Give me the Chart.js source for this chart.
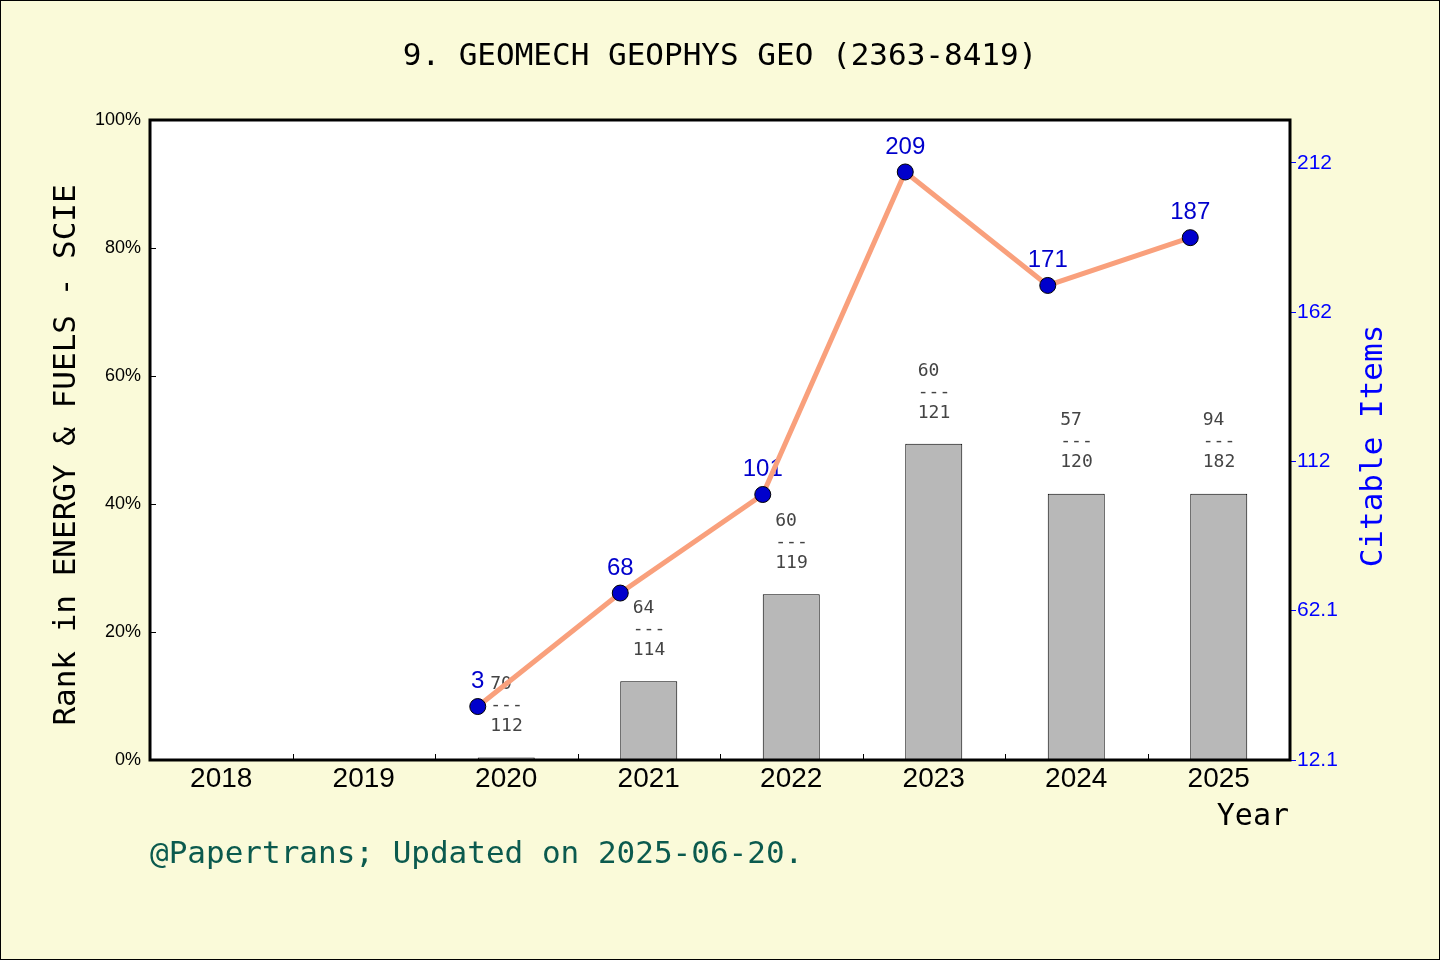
<!DOCTYPE html>
<html><head><meta charset="utf-8">
<script src="https://cdn.jsdelivr.net/npm/chart.js@4.4.0/dist/chart.umd.min.js"></script>
<style>html,body{margin:0;padding:0;background:#fafad9;} canvas{display:block;}</style>
</head><body>
<canvas id="c" width="1440" height="960"></canvas>
<script>
const years = ['2018','2019','2020','2021','2022','2023','2024','2025'];
const rankPercent = [null, null, 0.4, 12.3, 25.9, 49.4, 41.6, 41.6];
const rankPos = [null, null, 70, 64, 60, 60, 57, 94];
const rankTotal = [null, null, 112, 114, 119, 121, 120, 182];
const citableItems = [null, null, 3, 68, 101, 209, 171, 187];
// the reference draws the "3" marker at about 30 on the right scale
const citablePlotted = [null, null, 30, 68, 101, 209, 171, 187];
const leftTicks = [0, 20, 40, 60, 80, 100];
const rightTicks = [12.1, 62.1, 112.1, 162.1, 212.1];
const rightTickLabels = ['12.1', '62.1', '112', '162', '212'];
const rightMin = 12.1, rightMax = 226.4;
const titleText = '9. GEOMECH GEOPHYS GEO (2363-8419)';
const yTitle = 'Rank in ENERGY & FUELS - SCIE';
const y1Title = 'Citable Items';
const xTitle = 'Year';
const footerText = '@Papertrans; Updated on 2025-06-20.';
// the line markers sit at the left edge of each bar (category index - 0.2)
const lineShift = -0.2;

const lineData = [];
citablePlotted.forEach((v, i) => { if (v != null) lineData.push({x: i + lineShift, y: v, label: citableItems[i]}); });

const MONO = '"DejaVu Sans Mono", "Liberation Mono", monospace';
const SANS = '"Liberation Sans", Arial, sans-serif';

const deco = {
  id: 'deco',
  beforeDraw(chart) {
    const {ctx, chartArea: a, width, height} = chart;
    ctx.save();
    ctx.fillStyle = '#fafad9';
    ctx.fillRect(0, 0, width, height);
    ctx.fillStyle = '#ffffff';
    ctx.fillRect(a.left, a.top, a.right - a.left, a.bottom - a.top);
    ctx.restore();
  },
  beforeDatasetsDraw(chart) {
    const ctx = chart.ctx;
    const lineMeta = chart.getDatasetMeta(0);
    const barMeta = chart.getDatasetMeta(1);
    ctx.save();
    ctx.font = '18px ' + MONO;
    ctx.fillStyle = '#444444';
    ctx.textAlign = 'left';
    ctx.textBaseline = 'middle';
    barMeta.data.forEach((bar, i) => {
      if (rankPercent[i] == null) return;
      const x = bar.x - 16, y = bar.y;
      ctx.fillText(String(rankPos[i]), x, y - 73);
      ctx.fillText('---', x, y - 52);
      ctx.fillText(String(rankTotal[i]), x, y - 31);
    });
    ctx.font = '24px ' + SANS;
    ctx.fillStyle = '#0000cc';
    ctx.textAlign = 'center';
    lineMeta.data.forEach((pt, i) => {
      ctx.fillText(String(lineData[i].label), pt.x, pt.y - 25);
    });
    ctx.restore();
  },
  afterDatasetsDraw(chart) {
    const {ctx, chartArea: a, scales} = chart;
    ctx.save();
    ctx.strokeStyle = '#000';
    ctx.lineWidth = 1;
    ctx.beginPath();
    leftTicks.forEach(v => {
      const y = Math.round(scales.y.getPixelForValue(v)) + 0.5;
      ctx.moveTo(a.left, y); ctx.lineTo(a.left + 6, y);
    });
    for (let i = 1; i < years.length; i++) {
      const x = Math.round((scales.x.getPixelForValue(i - 1) + scales.x.getPixelForValue(i)) / 2) + 0.5;
      ctx.moveTo(x, a.bottom); ctx.lineTo(x, a.bottom - 6);
    }
    ctx.stroke();
    ctx.lineWidth = 3;
    ctx.strokeRect(a.left, a.top, a.right - a.left, a.bottom - a.top);
    ctx.restore();
  },
  afterDraw(chart) {
    const {ctx, chartArea: a, width, height} = chart;
    ctx.save();
    ctx.textBaseline = 'middle';
    ctx.font = '31px ' + MONO;
    ctx.fillStyle = '#000';
    ctx.textAlign = 'center';
    ctx.save();
    ctx.translate(67, 455);
    ctx.rotate(-Math.PI / 2);
    ctx.fillText(yTitle, 0, 0);
    ctx.restore();
    ctx.fillStyle = '#0000ff';
    ctx.save();
    ctx.translate(1374, 446);
    ctx.rotate(-Math.PI / 2);
    ctx.fillText(y1Title, 0, 0);
    ctx.restore();
    ctx.fillStyle = '#000';
    ctx.font = '30px ' + MONO;
    ctx.textAlign = 'right';
    ctx.fillText(xTitle, a.right - 1, 817);
    ctx.font = '31px ' + MONO;
    ctx.fillStyle = '#0b5a4e';
    ctx.textAlign = 'left';
    ctx.fillText(footerText, a.left, 855);
    ctx.strokeStyle = '#000';
    ctx.lineWidth = 1;
    ctx.strokeRect(0.5, 0.5, width - 1, height - 1);
    ctx.restore();
  }
};

new Chart(document.getElementById('c'), {
  data: {
    labels: years,
    datasets: [
      {
        type: 'line', data: lineData, xAxisID: 'x2', yAxisID: 'y1',
        borderColor: '#f9a07c', borderWidth: 5, tension: 0,
        pointRadius: 8, pointHoverRadius: 8,
        pointBackgroundColor: '#0000cc', pointBorderColor: '#000', pointBorderWidth: 1,
        order: 0
      },
      {
        type: 'bar', data: rankPercent, xAxisID: 'x', yAxisID: 'y',
        backgroundColor: '#b8b8b8', borderColor: '#000', borderWidth: 1,
        barPercentage: 0.4, categoryPercentage: 1, grouped: false, order: 1
      }
    ]
  },
  options: {
    responsive: false, animation: false, devicePixelRatio: 1,
    layout: {padding: 0},
    plugins: {
      legend: {display: false},
      tooltip: {enabled: false},
      title: {
        display: true, text: titleText, color: '#000',
        font: {family: MONO, size: 31, weight: 'normal'},
        padding: {top: 38, bottom: 44.8}
      }
    },
    scales: {
      x: {
        grid: {display: false, drawTicks: false}, border: {display: false},
        ticks: {color: '#000', font: {family: SANS, size: 28}, padding: 2, maxRotation: 0},
        afterFit(s) { s.height = 200; }
      },
      x2: {
        type: 'linear', display: false, min: -0.5, max: years.length - 0.5
      },
      y: {
        position: 'left', min: 0, max: 100,
        grid: {display: false, drawTicks: false}, border: {display: false},
        afterBuildTicks(s) { s.ticks = leftTicks.map(v => ({value: v})); },
        ticks: {color: '#000', font: {family: SANS, size: 18}, padding: 9, callback: v => v + '%'},
        afterFit(s) { s.width = 150; }
      },
      y1: {
        position: 'right', min: rightMin, max: rightMax,
        grid: {display: true, drawOnChartArea: false, drawTicks: true, tickLength: 6, color: '#0000ff'},
        border: {display: false},
        afterBuildTicks(s) { s.ticks = rightTicks.map(v => ({value: v})); },
        ticks: {color: '#0000ff', font: {family: SANS, size: 21}, padding: 1, callback: (v, i) => rightTickLabels[i]},
        afterFit(s) { s.width = 150; }
      }
    }
  },
  plugins: [deco]
});
</script>
</body></html>
